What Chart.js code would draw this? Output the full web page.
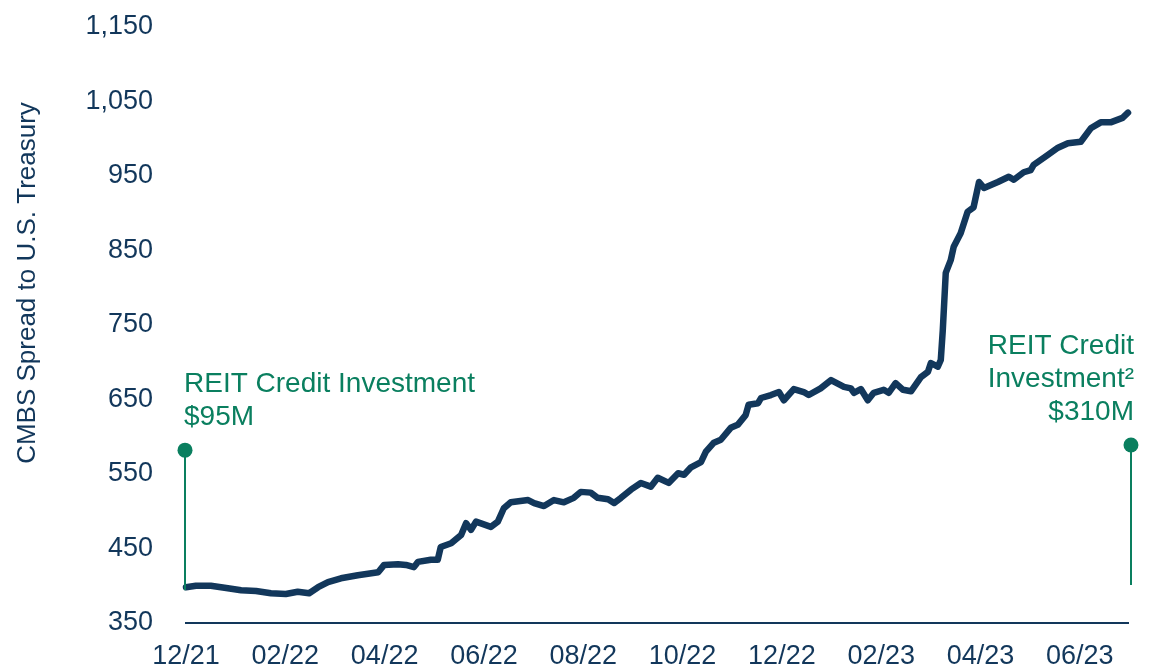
<!DOCTYPE html>
<html>
<head>
<meta charset="utf-8">
<title>CMBS Spread to U.S. Treasury</title>
<script src="https://cdn.jsdelivr.net/npm/chart.js@4.4.1/dist/chart.umd.min.js"></script>
<style>
  html, body { margin: 0; padding: 0; background: #fff; }
  #wrap { width: 1153px; height: 671px; position: relative; }
</style>
</head>
<body>
<div id="wrap"><canvas id="spreadChart"></canvas></div>
<script>
// months since 12/21 and spread (bps)
const months = [
    0.00, 0.20, 0.50, 0.81, 1.11, 1.41, 1.71, 2.01, 2.25, 2.48,
    2.66, 2.86, 3.12, 3.46, 3.87, 3.99, 4.27, 4.43, 4.59, 4.67,
    4.93, 5.07, 5.13, 5.34, 5.54, 5.64, 5.74, 5.84, 6.14, 6.28,
    6.40, 6.54, 6.89, 7.01, 7.21, 7.41, 7.61, 7.81, 7.95, 8.15,
    8.29, 8.50, 8.62, 8.76, 8.96, 9.16, 9.36, 9.50, 9.72, 9.91,
    10.03, 10.17, 10.37, 10.47, 10.63, 10.77, 10.97, 11.11, 11.27, 11.33,
    11.52, 11.58, 11.78, 11.94, 12.04, 12.24, 12.44, 12.54, 12.78, 12.99,
    13.25, 13.39, 13.45, 13.59, 13.73, 13.85, 14.05, 14.15, 14.29, 14.44,
    14.60, 14.80, 14.94, 15.00, 15.14, 15.20, 15.24, 15.30, 15.40, 15.46,
    15.60, 15.74, 15.86, 15.97, 16.07, 16.35, 16.57, 16.67, 16.87, 17.01,
    17.07, 17.35, 17.56, 17.76, 18.02, 18.22, 18.42, 18.62, 18.86, 18.97
];
const spread = [
    398, 400, 400, 397, 394, 393, 390, 389, 392, 390,
    398, 405, 410, 414, 418, 428, 429, 428, 425, 432,
    435, 435, 452, 457, 468, 484, 475, 486, 479, 486,
    504, 512, 515, 511, 507, 515, 512, 518, 526, 525,
    518, 516, 511, 518, 529, 538, 533, 545, 538, 551,
    549, 559, 566, 580, 592, 596, 612, 616, 629, 643,
    645, 652, 656, 660, 649, 664, 660, 656, 665, 676,
    667, 665, 659, 664, 649, 659, 663, 659, 672, 663,
    661, 680, 687, 699, 694, 703, 743, 820, 837, 855,
    873, 902, 908, 942, 934, 942, 949, 945, 955, 958,
    965, 978, 988, 994, 996, 1014, 1022, 1022, 1028, 1035
];

const tickMonths = [0, 2, 4, 6, 8, 10, 12, 14, 16, 18];
const tickLabels = ["12/21", "02/22", "04/22", "06/22", "08/22", "10/22", "12/22", "02/23", "04/23", "06/23"];

// investment markers: month, top of stem, bottom of stem (in spread units)
const markers = [
    { x: -0.02, top: 582, bottom: 394, lines: ["REIT Credit Investment", "$95M"], align: "left" },
    { x: 19.03, top: 589, bottom: 401, lines: ["REIT Credit", "Investment\u00B2", "$310M"], align: "right" }
];

const NAVY = "#12375b";
const GREEN = "#0a7f5f";
const FONT = "'Liberation Sans', Arial, sans-serif";

const markerPlugin = {
    id: "markers",
    afterDraw(chart) {
        const { ctx, scales: { x, y } } = chart;
        ctx.save();

        // y-axis title
        ctx.translate(28, 283);
        ctx.rotate(-Math.PI / 2);
        ctx.fillStyle = NAVY;
        ctx.font = "26px " + FONT;
        ctx.textAlign = "center";
        ctx.textBaseline = "middle";
        ctx.fillText("CMBS Spread to U.S. Treasury", 0, 0);
        ctx.setTransform(1, 0, 0, 1, 0, 0);

        markers.forEach(m => {
            const px = x.getPixelForValue(m.x);
            const top = y.getPixelForValue(m.top);
            const bottom = y.getPixelForValue(m.bottom);

            ctx.strokeStyle = GREEN;
            ctx.lineWidth = 2;
            ctx.beginPath();
            ctx.moveTo(px, top);
            ctx.lineTo(px, bottom);
            ctx.stroke();

            ctx.fillStyle = GREEN;
            ctx.beginPath();
            ctx.arc(px, top, 7.5, 0, Math.PI * 2);
            ctx.fill();

            ctx.font = "28px " + FONT;
            ctx.textBaseline = "alphabetic";
            ctx.textAlign = m.align;
            const tx = m.align === "left" ? px - 1 : px + 3;
            const n = m.lines.length;
            m.lines.forEach((t, i) => {
                ctx.fillText(t, tx, top - 25 - (n - 1 - i) * 33);
            });
        });
        ctx.restore();
    }
};

new Chart(document.getElementById("spreadChart"), {
    type: "line",
    data: {
        datasets: [{
            data: months.map((m, i) => ({ x: m, y: spread[i] })),
            borderColor: NAVY,
            borderWidth: 6.5,
            borderJoinStyle: "round",
            borderCapStyle: "round",
            pointRadius: 0,
            tension: 0,
            clip: false
        }]
    },
    options: {
        responsive: true,
        maintainAspectRatio: false,
        animation: false,
        devicePixelRatio: 1,
        layout: { padding: { top: 27, right: 25, bottom: 0, left: 0 } },
        plugins: {
            legend: { display: false },
            tooltip: { enabled: false }
        },
        scales: {
            x: {
                type: "linear",
                min: 0,
                max: 18.97,
                afterBuildTicks(scale) {
                    scale.ticks = tickMonths.map(v => ({ value: v }));
                },
                afterFit(scale) {
                    scale.height = 48;
                    scale.paddingLeft = 0;
                    scale.paddingRight = 0;
                },
                grid: { display: false, drawTicks: false },
                border: { display: true, color: NAVY, width: 2 },
                ticks: {
                    autoSkip: false,
                    maxRotation: 0,
                    padding: 17,
                    color: NAVY,
                    font: { family: FONT, size: 27 },
                    callback: (v) => tickLabels[tickMonths.indexOf(v)]
                }
            },
            y: {
                min: 350,
                max: 1150,
                afterFit(scale) {
                    scale.width = 186;
                    scale.paddingTop = 0;
                    scale.paddingBottom = 0;
                },
                grid: { display: false, drawTicks: false },
                border: { display: false },
                ticks: {
                    stepSize: 100,
                    padding: 33,
                    color: NAVY,
                    font: { family: FONT, size: 27 },
                    callback: (v) => v.toLocaleString("en-US")
                }
            }
        }
    },
    plugins: [markerPlugin]
});
</script>
</body>
</html>
